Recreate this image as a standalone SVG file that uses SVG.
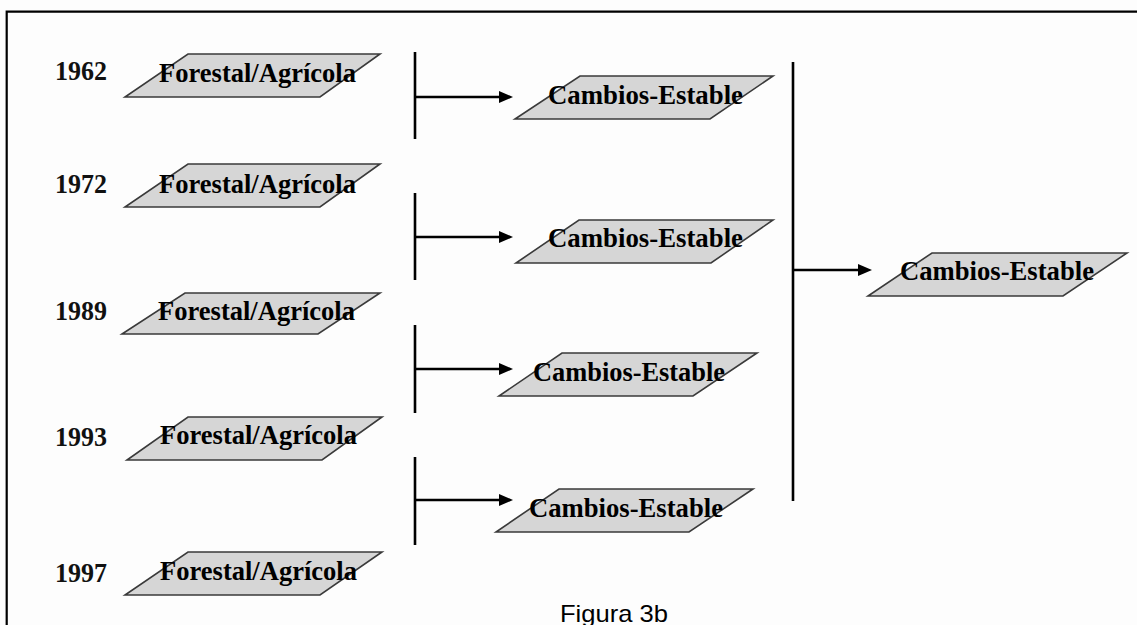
<svg xmlns="http://www.w3.org/2000/svg" width="1137" height="625" viewBox="0 0 1137 625">
<defs>
<style>
.pg{fill:#d6d6d6;stroke:#3a3a3a;stroke-width:1.6;stroke-linejoin:miter}
.lbl{font-family:"Liberation Serif","Times New Roman",serif;font-weight:bold;font-size:28px;fill:#000}
.yr{font-family:"Liberation Serif","Times New Roman",serif;font-weight:bold;font-size:28px;fill:#111}
.bar{stroke:#000;stroke-width:2.6;fill:none}
.arr{stroke:#000;stroke-width:2.6;fill:none;marker-end:url(#ah)}
.cap{font-family:"Liberation Sans",Arial,sans-serif;font-size:24px;fill:#000}
</style>
<marker id="ah" markerUnits="userSpaceOnUse" markerWidth="14" markerHeight="12" refX="4" refY="6" orient="auto">
<path d="M0,0 L14,6 L0,12 z" fill="#000"/>
</marker>
</defs>
<rect x="0" y="0" width="1137" height="625" fill="#fdfdfd"/>
<path d="M6.7,626 V11.7 H1138" fill="none" stroke="#000" stroke-width="2.2"/>

<g id="n1962">
<polygon class="pg" points="188,54 380,54 320,97 125,97"/>
<text class="yr" x="55" y="80" textLength="52" lengthAdjust="spacingAndGlyphs">1962</text>
<text class="lbl" x="159" y="82" textLength="197" lengthAdjust="spacingAndGlyphs">Forestal/Agrícola</text>
</g>
<g id="n1972">
<polygon class="pg" points="188,164 380,164 320,207 125,207"/>
<text class="yr" x="55" y="193" textLength="52" lengthAdjust="spacingAndGlyphs">1972</text>
<text class="lbl" x="159" y="193" textLength="197" lengthAdjust="spacingAndGlyphs">Forestal/Agrícola</text>
</g>
<g id="n1989">
<polygon class="pg" points="185,293 380,293 318,334 122,334"/>
<text class="yr" x="55" y="320" textLength="52" lengthAdjust="spacingAndGlyphs">1989</text>
<text class="lbl" x="158" y="320" textLength="197" lengthAdjust="spacingAndGlyphs">Forestal/Agrícola</text>
</g>
<g id="n1993">
<polygon class="pg" points="188,417 382,417 322,460 127,460"/>
<text class="yr" x="55" y="446" textLength="52" lengthAdjust="spacingAndGlyphs">1993</text>
<text class="lbl" x="160" y="444" textLength="197" lengthAdjust="spacingAndGlyphs">Forestal/Agrícola</text>
</g>
<g id="n1997">
<polygon class="pg" points="188,552 382,552 320,595 125,595"/>
<text class="yr" x="55" y="582" textLength="52" lengthAdjust="spacingAndGlyphs">1997</text>
<text class="lbl" x="160" y="580" textLength="197" lengthAdjust="spacingAndGlyphs">Forestal/Agrícola</text>
</g>

<g id="c1">
<polygon class="pg" points="580,76 773,76 710,119 515,119"/>
<text class="lbl" x="548" y="104" textLength="195" lengthAdjust="spacingAndGlyphs">Cambios-Estable</text>
</g>
<g id="c2">
<polygon class="pg" points="579,220 773,220 711,263 516,263"/>
<text class="lbl" x="548" y="247" textLength="195" lengthAdjust="spacingAndGlyphs">Cambios-Estable</text>
</g>
<g id="c3">
<polygon class="pg" points="562,353 757,353 693,396 499,396"/>
<text class="lbl" x="533" y="381" textLength="192" lengthAdjust="spacingAndGlyphs">Cambios-Estable</text>
</g>
<g id="c4">
<polygon class="pg" points="559,489 753,489 689,532 496,532"/>
<text class="lbl" x="529" y="517" textLength="194" lengthAdjust="spacingAndGlyphs">Cambios-Estable</text>
</g>
<g id="cfinal">
<polygon class="pg" points="932,253 1127,253 1063,296 868,296"/>
<text class="lbl" x="900" y="280" textLength="194" lengthAdjust="spacingAndGlyphs">Cambios-Estable</text>
</g>

<g id="connectors">
<line class="bar" x1="415" y1="52" x2="415" y2="139"/>
<line class="arr" x1="415" y1="97" x2="503" y2="97"/>
<line class="bar" x1="415" y1="193" x2="415" y2="280"/>
<line class="arr" x1="415" y1="237" x2="503" y2="237"/>
<line class="bar" x1="415" y1="325" x2="415" y2="413"/>
<line class="arr" x1="415" y1="369" x2="503" y2="369"/>
<line class="bar" x1="415" y1="457" x2="415" y2="545"/>
<line class="arr" x1="415" y1="500" x2="503" y2="500"/>
<line class="bar" x1="793" y1="62" x2="793" y2="501"/>
<line class="arr" x1="793" y1="270" x2="862" y2="270"/>
</g>

<text class="cap" x="560" y="622" textLength="108" lengthAdjust="spacingAndGlyphs">Figura 3b</text>
</svg>
